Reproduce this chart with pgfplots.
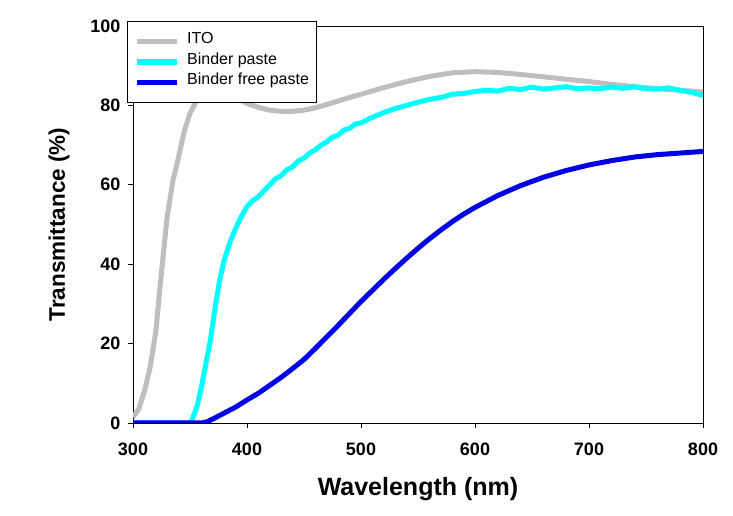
\documentclass[border=0pt]{standalone}
\usepackage{pgfplots}
\pgfplotsset{compat=1.18}
\usepackage{fontspec}
\setmainfont{Liberation Sans}
\definecolor{itogray}{RGB}{190,190,190}
\definecolor{bcyan}{RGB}{0,255,255}
\definecolor{bblue}{RGB}{0,0,230}
\begin{document}
\begin{tikzpicture}
\useasboundingbox (0,0) rectangle (733pt,516pt);
\begin{axis}[
  at={(133pt,93pt)}, anchor=south west,
  scale only axis, width=570pt, height=397pt,
  xmin=300, xmax=800, ymin=0, ymax=100,
  xtick={300,400,...,800}, ytick={0,20,...,100},
  tick align=outside, tick pos=left, major tick length=5pt,
  axis line style={line width=0.8pt}, every tick/.style={line width=0.8pt, black},
  /pgf/number format/assume math mode=true,
  tick label style={font=\fontsize{18}{18}\selectfont\bfseries},
  xticklabel style={yshift=-11pt},
  yticklabel style={xshift=-4pt},
  xlabel={Wavelength (nm)}, ylabel={Transmittance (\%)},
  xlabel style={font=\fontsize{25}{25}\selectfont\bfseries, at={(axis description cs:0.5,-0.1662)}, anchor=center},
  ylabel style={font=\fontsize{22.5}{22.5}\selectfont\bfseries, at={(axis description cs:-0.1298,0.5)}, anchor=center, rotate=0},
  legend cell align=left,
  legend style={at={(axis description cs:0,1)}, anchor=north west, xshift=-6pt, yshift=5pt,
    draw=black, line width=0.8pt, fill=white, font=\fontsize{16}{16}\selectfont,
    row sep=0.5pt, inner xsep=6.5pt, inner ysep=10pt,
    nodes={inner sep=1pt, text height=11.5pt, text depth=6.5pt}},
  legend image code/.code={\draw[#1, line width=5.5pt] (0pt,0pt) -- (40pt,0pt); \path (47pt,0pt);},
]
\addplot[itogray, line width=5pt] coordinates {
(300,1.5)(305,3.5)(310,8)(315,14)(320,23)(325,38)(330,52)(335,61)(340,67)(345,73.5)(350,78)(355,80.8)(360,82.8)(370,84.5)(380,83.5)(390,82)(400,80.5)(410,79.5)(420,78.8)(430,78.5)(440,78.5)(450,78.8)(460,79.4)(470,80.2)(480,81.1)(490,82)(500,82.8)(520,84.5)(540,86)(560,87.3)(580,88.2)(600,88.5)(620,88.3)(640,87.8)(660,87.2)(680,86.6)(700,86)(720,85.3)(740,84.7)(760,84.2)(780,83.8)(800,83.4)
};
\addlegendentry{ITO}
\addplot[bcyan, line width=5pt] coordinates {
(300,0)(350,0)(352,1)(356,4)(360,9)(364,15)(368,21)(372,29)(376,36)(380,41)(385,45.5)(390,49)(395,52)(400,54.5)(405,56)(410,57)(415,58.5)(420,60)(425,61.5)(430,62.3)(435,63.8)(440,64.5)(445,66)(450,66.7)(455,68)(460,68.8)(465,70)(470,70.8)(475,72)(480,72.5)(485,73.8)(490,74.2)(495,75.3)(500,75.6)(510,77)(520,78.2)(530,79.2)(540,80)(550,80.8)(560,81.5)(570,82)(580,82.8)(590,83)(600,83.5)(610,83.8)(620,83.6)(630,84.3)(640,84)(650,84.6)(660,84.1)(670,84.4)(680,84.7)(690,84.2)(700,84.4)(710,84.2)(720,84.6)(730,84.3)(740,84.7)(750,84.2)(760,84.1)(770,84.4)(780,83.8)(790,83.3)(800,82.5)
};
\addlegendentry{Binder paste}
\addplot[bblue, line width=5pt] coordinates {
(300,0)(360,0)(365,0.3)(370,1)(380,2.5)(390,4)(400,5.8)(410,7.5)(420,9.5)(430,11.5)(440,13.7)(450,16)(460,18.8)(470,21.7)(480,24.6)(490,27.6)(500,30.6)(510,33.4)(520,36.2)(530,38.9)(540,41.5)(550,44)(560,46.4)(570,48.6)(580,50.7)(590,52.6)(600,54.3)(620,57.3)(640,59.8)(660,61.9)(680,63.6)(700,65)(720,66.1)(740,67)(760,67.6)(780,68)(800,68.4)
};
\addlegendentry{Binder free paste}
\end{axis}
\end{tikzpicture}
\end{document}
